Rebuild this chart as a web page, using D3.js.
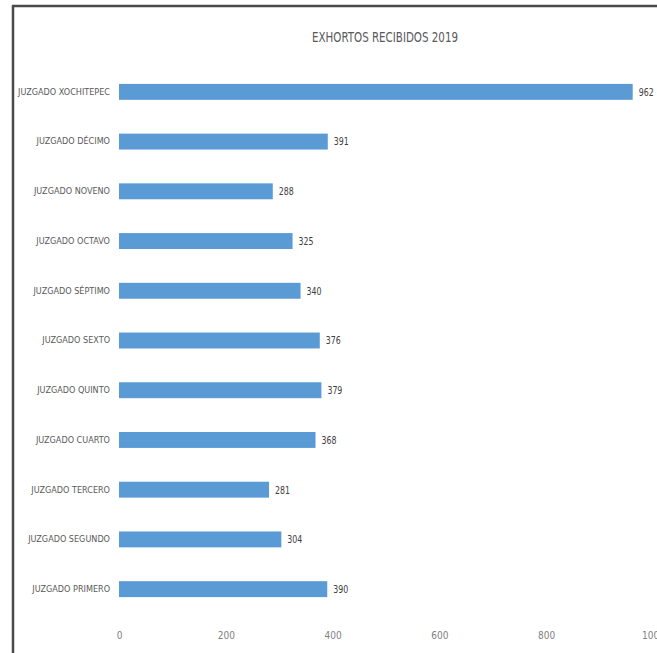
<!DOCTYPE html>
<html><head><meta charset="utf-8">
<script src="https://cdn.jsdelivr.net/npm/d3@7"></script>
<style>body{margin:0;background:#fff}svg{display:block}</style>
</head><body>
<script>
const title = "EXHORTOS RECIBIDOS 2019";
const categories = ["JUZGADO XOCHITEPEC","JUZGADO DÉCIMO","JUZGADO NOVENO","JUZGADO OCTAVO","JUZGADO SÉPTIMO","JUZGADO SEXTO","JUZGADO QUINTO","JUZGADO CUARTO","JUZGADO TERCERO","JUZGADO SEGUNDO","JUZGADO PRIMERO"];
const values = [962,391,288,325,340,376,379,368,281,304,390];
const ticks = [0,200,400,600,800,1000];

const W=657,H=653;
const svg=d3.select("body").append("svg").attr("width",W).attr("height",H);
const font="'Liberation Sans Narrow','Arial Narrow','DejaVu Sans Condensed',sans-serif";

// frame
svg.append("line").attr("x1",13).attr("x2",13).attr("y1",5).attr("y2",H).attr("stroke","#4a4a4a").attr("stroke-width",2.5);
svg.append("line").attr("x1",12).attr("x2",W).attr("y1",6).attr("y2",6).attr("stroke","#4a4a4a").attr("stroke-width",2.5);

const x=d3.scaleLinear().domain([0,1000]).range([119,653]);
const y=d3.scaleBand().domain(categories).range([67,614]).paddingInner(0.68).paddingOuter(0.34);

svg.append("text").attr("x",385).attr("y",42).attr("text-anchor","middle")
  .attr("font-family",font).attr("font-size",14).attr("fill","#595959")
  .attr("textLength",146).attr("lengthAdjust","spacingAndGlyphs").text(title);

svg.selectAll("rect.bar").data(values).enter().append("rect")
  .attr("x",x(0)).attr("y",(d,i)=>y(categories[i])).attr("width",d=>x(d)-x(0))
  .attr("height",y.bandwidth()).attr("fill","#5B9BD5");

svg.selectAll("text.val").data(values).enter().append("text")
  .attr("x",d=>x(d)+6).attr("y",(d,i)=>y(categories[i])+y.bandwidth()/2)
  .attr("dy","0.35em").attr("font-family",font).attr("font-size",11).attr("fill","#404040")
  .attr("textLength",15).attr("lengthAdjust","spacingAndGlyphs").text(d=>d);

const ya=d3.axisLeft(y).tickSize(0).tickPadding(9);
const gy=svg.append("g").attr("transform",`translate(${x(0)},0)`).call(ya);
gy.select(".domain").remove();
gy.selectAll("text").attr("font-family",font).attr("font-size",9).attr("fill","#595959");

const xa=d3.axisBottom(x).tickValues(ticks).tickFormat(d3.format("d")).tickSize(0).tickPadding(12);
const gx=svg.append("g").attr("transform",`translate(0,620)`).call(xa);
gx.select(".domain").remove();
gx.selectAll("text").attr("font-family",font).attr("font-size",10).attr("fill","#7f7f7f");
</script>
</body></html>
